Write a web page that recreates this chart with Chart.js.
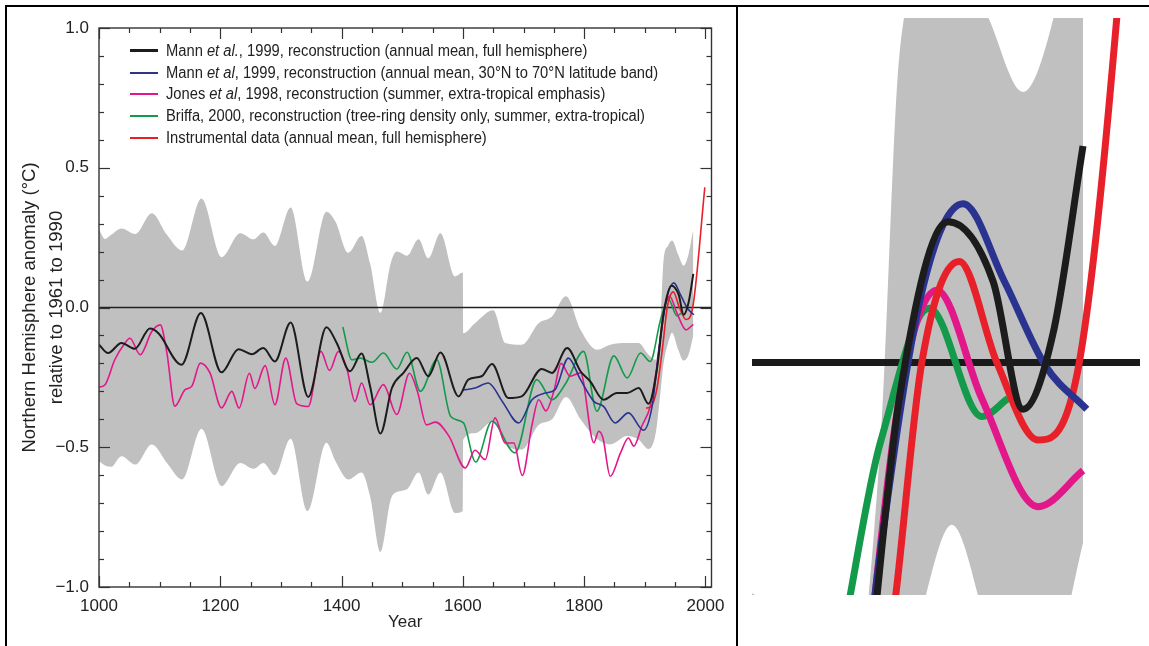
<!DOCTYPE html>
<html><head><meta charset="utf-8">
<script src="https://cdn.jsdelivr.net/npm/chart.js@4.4.1/dist/chart.umd.min.js"></script>
<style>
html,body{margin:0;padding:0;background:#fff;}
body{width:1149px;height:646px;position:relative;overflow:hidden;font-family:"Liberation Sans",Arial,sans-serif;}
.ln{position:absolute;background:#000;}
#c1{position:absolute;left:0;top:0;}
#c2{position:absolute;left:752px;top:18px;filter:blur(0.7px);}
#legend{position:absolute;left:130px;top:40px;font-size:16px;line-height:21.7px;color:#222;}
#legend .row{display:flex;align-items:center;white-space:nowrap;height:21.7px;}
#legend .sw{width:28px;margin-right:8px;flex:none;}
#legend .tx{display:inline-block;transform:scaleX(0.92);transform-origin:0 50%;}
</style></head>
<body>
<canvas id="c1" width="737" height="646"></canvas>
<canvas id="c2" width="388" height="577"></canvas>
<div id="legend"></div>
<div class="ln" style="left:5px;top:5px;width:1144px;height:2px"></div>
<div class="ln" style="left:5px;top:5px;width:2px;height:641px"></div>
<div class="ln" style="left:736px;top:5px;width:2px;height:641px"></div>
<script>
// ---------- data ----------
const tickYears = [1000,1200,1400,1600,1800,2000];
const tickValues = [-1,-0.5,0,0.5,1];

const mannYears = [1000,1015,1037,1059,1084,1098,1136,1168,1202,1230,1252,1271,1290,1316,1345,1375,1392,1414,1433,1447,1464,1483,1502,1524,1543,1563,1593,1609,1631,1648,1675,1697,1730,1747,1772,1794,1810,1832,1854,1871,1890,1906,1920,1931,1944,1956,1964,1972,1980];
const mannValues = [-0.133,-0.163,-0.127,-0.148,-0.075,-0.092,-0.205,-0.02,-0.232,-0.149,-0.167,-0.145,-0.193,-0.054,-0.32,-0.071,-0.127,-0.228,-0.165,-0.282,-0.451,-0.288,-0.234,-0.181,-0.246,-0.161,-0.318,-0.258,-0.246,-0.202,-0.324,-0.318,-0.22,-0.234,-0.145,-0.228,-0.264,-0.33,-0.306,-0.306,-0.288,-0.344,-0.222,-0.02,0.078,0.045,-0.026,0.016,0.12];

const bandYearsN = [1600,1620,1642,1665,1692,1714,1736,1752,1774,1794,1816,1832,1851,1873,1898,1912,1926,1937,1948,1959,1970,1981];
const bandValuesN = [-0.296,-0.288,-0.27,-0.336,-0.413,-0.33,-0.306,-0.294,-0.181,-0.258,-0.336,-0.354,-0.413,-0.377,-0.439,-0.354,-0.104,0.039,0.088,0.045,-0.002,-0.026];

const jonesYears = [1000,1010,1026,1043,1051,1068,1087,1101,1112,1125,1142,1153,1167,1183,1202,1219,1231,1248,1257,1274,1290,1308,1326,1345,1366,1380,1395,1409,1422,1433,1447,1469,1491,1512,1525,1540,1555,1577,1604,1620,1637,1653,1670,1684,1698,1714,1725,1737,1750,1762,1777,1794,1816,1824,1831,1843,1860,1873,1882,1895,1909,1920,1931,1941,1953,1968,1980];
const jonesValues = [-0.285,-0.276,-0.187,-0.127,-0.11,-0.169,-0.086,-0.062,-0.163,-0.353,-0.294,-0.282,-0.199,-0.234,-0.359,-0.30,-0.36,-0.235,-0.29,-0.208,-0.348,-0.181,-0.344,-0.354,-0.157,-0.225,-0.157,-0.222,-0.336,-0.27,-0.348,-0.276,-0.383,-0.235,-0.30,-0.42,-0.41,-0.46,-0.574,-0.511,-0.544,-0.395,-0.485,-0.485,-0.601,-0.42,-0.33,-0.37,-0.3,-0.2,-0.246,-0.234,-0.484,-0.443,-0.467,-0.604,-0.52,-0.467,-0.496,-0.425,-0.353,-0.21,-0.02,0.04,-0.02,-0.08,-0.06];

const briffaYears = [1402,1417,1431,1450,1469,1491,1508,1530,1557,1580,1601,1621,1648,1686,1722,1747,1770,1799,1821,1849,1871,1893,1909,1926,1939,1953,1960];
const briffaValues = [-0.07,-0.187,-0.181,-0.196,-0.163,-0.22,-0.16,-0.30,-0.187,-0.39,-0.413,-0.553,-0.407,-0.52,-0.258,-0.33,-0.27,-0.157,-0.371,-0.173,-0.252,-0.163,-0.193,-0.044,0.03,-0.03,-0.02];

const instYears = [1902,1910,1920,1930,1937,1947,1957,1968,1979,1999];
const instValues = [-0.36,-0.355,-0.29,-0.13,0.0,0.056,0.0,-0.043,0.0,0.43];

const bandYears = [1000,1010,1020,1037,1060,1087,1112,1137,1169,1202,1233,1255,1271,1290,1316,1344,1375,1390,1411,1433,1447,1464,1481,1491,1508,1527,1543,1563,1587,1600,1600.5,1620,1650,1670,1697,1725,1747,1770,1794,1821,1843,1871,1890,1906,1918,1926,1931,1938,1945,1955,1964,1972,1980];
const bandUpper = [0.28,0.245,0.26,0.283,0.263,0.337,0.26,0.204,0.39,0.18,0.266,0.244,0.268,0.22,0.358,0.093,0.343,0.307,0.196,0.256,0.158,-0.02,0.158,0.2,0.185,0.244,0.176,0.266,0.111,0.125,-0.092,-0.056,-0.01,-0.127,-0.133,-0.056,-0.032,0.04,-0.08,-0.151,-0.133,-0.127,-0.127,-0.169,-0.187,-0.044,0.17,0.22,0.24,0.19,0.15,0.19,0.28];
const bandLower = [-0.55,-0.565,-0.57,-0.532,-0.562,-0.49,-0.556,-0.615,-0.434,-0.639,-0.556,-0.577,-0.556,-0.6,-0.47,-0.728,-0.484,-0.55,-0.615,-0.59,-0.675,-0.875,-0.687,-0.66,-0.65,-0.59,-0.669,-0.59,-0.735,-0.728,-0.473,-0.45,-0.407,-0.49,-0.508,-0.42,-0.40,-0.32,-0.40,-0.47,-0.49,-0.46,-0.473,-0.506,-0.45,-0.30,-0.20,-0.13,-0.09,-0.15,-0.19,-0.17,-0.10];

const legendLabels = [
  'Mann <i>et al.</i>, 1999, reconstruction (annual mean, full hemisphere)',
  'Mann <i>et al</i>, 1999, reconstruction (annual mean, 30°N to 70°N latitude band)',
  'Jones <i>et al</i>, 1998, reconstruction (summer, extra-tropical emphasis)',
  'Briffa, 2000, reconstruction (tree-ring density only, summer, extra-tropical)',
  'Instrumental data (annual mean, full hemisphere)'
];

// ---------- styles ----------
const COL = {black:'#1c1c1c', blue:'#2a3490', pink:'#e2178a', green:'#149a4b', red:'#e8202a', band:'#c0c0c0'};
const FONT = '"Liberation Sans",Arial,sans-serif';
Chart.defaults.font.family = FONT;
Chart.defaults.color = '#222';

function pts(xs, ys){ return xs.map((x,i)=>({x:x, y:ys[i]})); }
function lineDs(label, xs, ys, color, w, order){
  return {label, data: pts(xs,ys), borderColor: color, borderWidth: w, pointRadius: 0,
          fill: false, cubicInterpolationMode: 'monotone', order};
}
function buildDatasets(w, wb){
  return [
    {label:'upper', data: pts(bandYears, bandUpper), borderWidth: 0, borderColor:'rgba(0,0,0,0)', pointRadius: 0,
     backgroundColor: COL.band, fill: '+1', cubicInterpolationMode:'monotone', order: 20},
    {label:'lower', data: pts(bandYears, bandLower), borderWidth: 0, borderColor:'rgba(0,0,0,0)', pointRadius: 0,
     fill: false, cubicInterpolationMode:'monotone', order: 19},
    lineDs('Briffa', briffaYears, briffaValues, COL.green, w, 6),
    lineDs('Jones', jonesYears, jonesValues, COL.pink, w, 5),
    lineDs('Instrumental', instYears, instValues, COL.red, w, 4),
    lineDs('Mann 30-70N', bandYearsN, bandValuesN, COL.blue, w, 3),
    lineDs('Mann NH', mannYears, mannValues, COL.black, wb, 2)
  ];
}

const zeroLine = {
  id: 'zeroLine',
  afterDatasetDraw(chart, args, opts){
    if (args.index !== 1) return;
    const {ctx, chartArea: a, scales: {y}} = chart;
    const py = y.getPixelForValue(0);
    ctx.save(); ctx.beginPath(); ctx.lineWidth = opts.width; ctx.strokeStyle = opts.color;
    ctx.moveTo(a.left, py); ctx.lineTo(a.right, py); ctx.stroke(); ctx.restore();
  }
};

const minorX = 50, minorY = 0.1;
const frame = {
  id: 'frame',
  afterDraw(chart){
    const {ctx, chartArea: a, scales: {x, y}} = chart;
    ctx.save();
    ctx.strokeStyle = '#333'; ctx.lineWidth = 1.4;
    ctx.strokeRect(a.left, a.top, a.right - a.left, a.bottom - a.top);
    ctx.lineWidth = 1.2;
    const seg = (x1,y1,x2,y2)=>{ctx.beginPath();ctx.moveTo(x1,y1);ctx.lineTo(x2,y2);ctx.stroke();};
    for (let v = tickYears[0]; v <= tickYears[tickYears.length-1]; v += minorX){
      const px = Math.round(x.getPixelForValue(v)) + 0.5;
      const L = tickYears.includes(v) ? 11 : 5;
      seg(px, a.bottom, px, a.bottom - L); seg(px, a.top, px, a.top + L);
    }
    for (let k = -10; k <= 10; k++){
      const v = k * minorY;
      const py = Math.round(y.getPixelForValue(v)) + 0.5;
      const L = (k % 5 === 0) ? 11 : 5;
      seg(a.left, py, a.left + L, py); seg(a.right, py, a.right - L, py);
    }
    ctx.restore();
  }
};

// ---------- left chart ----------
new Chart(document.getElementById('c1'), {
  type: 'line',
  data: { datasets: buildDatasets(1.6, 2.0) },
  options: {
    responsive: false, animation: false, events: [],
    layout: { padding: { left: 0, top: 28, right: 25.5, bottom: 0 } },
    plugins: { legend: {display:false}, tooltip: {enabled:false}, zeroLine: {width: 1.5, color:'#222'} },
    scales: {
      x: { type: 'linear', min: 1000, max: 2010,
           afterBuildTicks: s => { s.ticks = tickYears.map(v=>({value:v})); },
           afterFit: s => { s.height = 59; },
           grid: {display:false, drawTicks:false}, border: {display:false},
           ticks: { padding: 9, font: {size: 17}, color:'#222', maxRotation: 0, callback: v => String(v) },
           title: { display: true, text: 'Year', font: {size: 17}, color:'#222', padding: {top:0, bottom: 13} } },
      y: { type: 'linear', min: -1, max: 1,
           afterBuildTicks: s => { s.ticks = tickValues.map(v=>({value:v})); },
           afterFit: s => { s.width = 99; },
           grid: {display:false, drawTicks:false}, border: {display:false},
           ticks: { padding: 10, font: {size: 17}, color:'#222',
                    callback: v => (v < 0 ? '\u2212' : '') + Math.abs(v).toFixed(1) },
           title: { display: true, text: ['Northern Hemisphere anomaly (°C)', 'relative to 1961 to 1990'],
                    font: {size: 18.5, lineHeight: 1.47}, color:'#222',
                    padding: {top: 16.5, bottom: 0} } }
    }
  },
  plugins: [zeroLine, frame]
});

// ---------- right (zoomed) chart ----------
new Chart(document.getElementById('c2'), {
  type: 'line',
  data: { datasets: buildDatasets(7, 7) },
  options: {
    responsive: false, animation: false, events: [],
    layout: { padding: 0 },
    plugins: { legend: {display:false}, tooltip: {enabled:false}, zeroLine: {width: 7, color:'#1a1a1a'} },
    scales: {
      x: { type: 'linear', min: 1891.7, max: 1995.2, display: false },
      y: { type: 'linear', min: -0.129, max: 0.191, display: false }
    }
  },
  plugins: [zeroLine]
});

// ---------- legend ----------
const legendColors = [COL.black, COL.blue, COL.pink, COL.green, COL.red];
const legendWidths = [3, 2, 2, 2, 2];
const lg = document.getElementById('legend');
legendLabels.forEach((t, i) => {
  const r = document.createElement('div'); r.className = 'row';
  r.innerHTML = '<span class="sw" style="height:' + legendWidths[i] + 'px;background:' + legendColors[i] + '"></span><span class="tx">' + t + '</span>';
  lg.appendChild(r);
});
</script>
</body></html>
